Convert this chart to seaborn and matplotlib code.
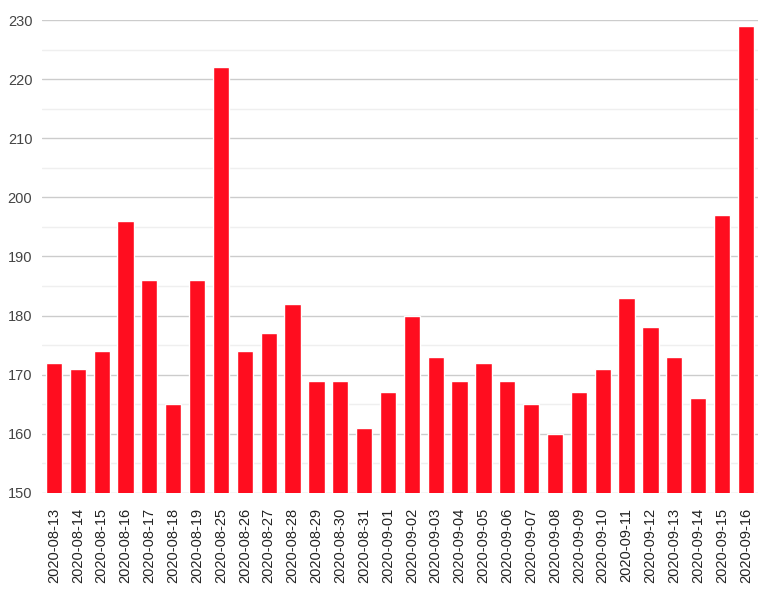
import matplotlib
matplotlib.use('Agg')
import matplotlib.pyplot as plt
import seaborn as sns
import pandas as pd
from matplotlib.ticker import MultipleLocator

# Dates and counts
dates = ['2020-08-13', '2020-08-14', '2020-08-15', '2020-08-16', '2020-08-17',
         '2020-08-18', '2020-08-19', '2020-08-25', '2020-08-26', '2020-08-27',
         '2020-08-28', '2020-08-29', '2020-08-30', '2020-08-31', '2020-09-01',
         '2020-09-02', '2020-09-03', '2020-09-04', '2020-09-05', '2020-09-06',
         '2020-09-07', '2020-09-08', '2020-09-09', '2020-09-10', '2020-09-11',
         '2020-09-12', '2020-09-13', '2020-09-14', '2020-09-15', '2020-09-16']
values = [172, 171, 174, 196, 186, 165, 186, 222, 174, 177,
          182, 169, 169, 161, 167, 180, 173, 169, 172, 169,
          165, 160, 167, 171, 183, 178, 173, 166, 197, 229]

df = pd.DataFrame({'date': dates, 'value': values})

sns.set_style('white')
plt.rcParams['font.family'] = ['Liberation Sans', 'DejaVu Sans']

fig = plt.figure(figsize=(7.68, 5.91), dpi=100)
ax = fig.add_axes([0.0547, 0.166, 0.932, 0.800])

sns.barplot(data=df, x='date', y='value', color='#ff0d1f', saturation=1,
            width=0.68, ax=ax, zorder=3)

ax.set_ylim(150, 230)
ax.set_xlim(-0.5, len(dates) - 0.5)
ax.yaxis.set_major_locator(MultipleLocator(10))
ax.yaxis.set_minor_locator(MultipleLocator(5))
ax.grid(axis='y', which='major', color='#cccccc', linewidth=1, zorder=0)
ax.grid(axis='y', which='minor', color='#efefef', linewidth=1, zorder=0)
ax.set_axisbelow(True)

for s in ax.spines.values():
    s.set_visible(False)

ax.tick_params(axis='x', rotation=90, labelsize=10.5, colors='#222222', length=0, pad=11)
ax.tick_params(axis='y', labelsize=10.5, colors='#444444', length=0, pad=7)
ax.tick_params(axis='y', which='minor', length=0)
ax.set_xlabel('')
ax.set_ylabel('')

fig.savefig('out.png', dpi=100)
